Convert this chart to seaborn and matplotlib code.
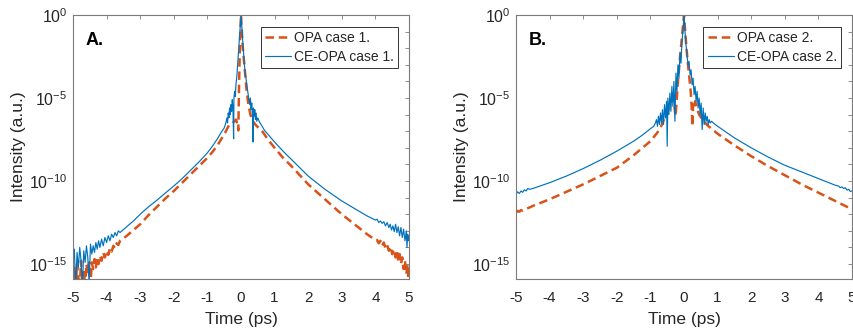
import numpy as np
import pandas as pd
import matplotlib
matplotlib.use("Agg")
import matplotlib.pyplot as plt
from matplotlib.ticker import FixedLocator, FuncFormatter, NullFormatter
import seaborn as sns

# ---------------- data: time (ps) and log10 of normalised intensity ----------------
# Case 1, CE-OPA
a_ce_t = [-5.00, -4.96, -4.92, -4.88, -4.84, -4.80, -4.76, -4.72, -4.68, -4.64, -4.60, -4.56,
          -4.52, -4.48, -4.44, -4.40, -4.36, -4.32, -4.28, -4.24, -4.20, -4.15, -4.10, -4.05,
          -4.00, -3.95, -3.90, -3.85, -3.80, -3.75, -3.70, -3.65, -3.60,
          -3.4, -3.2, -3.0, -2.75, -2.5, -2.25, -2.0, -1.75, -1.5, -1.25, -1.0, -0.85, -0.7,
          -0.6, -0.5, -0.45,
          -0.42, -0.40, -0.38, -0.36, -0.34, -0.32, -0.30, -0.28, -0.26, -0.24, -0.22, -0.21,
          -0.19, -0.17, -0.15, -0.12, -0.09, -0.06, -0.03, 0.0, 0.03, 0.06, 0.10, 0.14, 0.18,
          0.22, 0.26, 0.28, 0.30, 0.32, 0.34, 0.36, 0.37, 0.39, 0.41, 0.43, 0.45, 0.47, 0.50,
          0.55, 0.6, 0.7, 0.85, 1.0, 1.25, 1.5, 1.75, 2.0, 2.25, 2.5, 2.75, 3.0, 3.25, 3.5,
          3.75, 4.0,
          4.05, 4.10, 4.15, 4.20, 4.25, 4.30, 4.35, 4.40, 4.44, 4.48, 4.52, 4.56, 4.60, 4.64,
          4.68, 4.72, 4.76, 4.80, 4.84, 4.88, 4.92, 4.94, 4.96, 4.98, 5.00]
a_ce_log = [-14.6, -14.1, -16.5, -14.3, -15.2, -14.0, -14.8, -16.3, -14.2, -14.9, -13.9, -14.6,
            -16.2, -13.8, -14.4, -13.9, -14.3, -13.7, -14.1, -13.6, -14.0, -13.5, -13.9, -13.4,
            -13.7, -13.3, -13.6, -13.2, -13.4, -13.1, -13.3, -13.0, -13.1,
            -12.75, -12.4, -12.0, -11.55, -11.15, -10.72, -10.3, -9.85, -9.35, -8.85, -8.3,
            -7.9, -7.45, -7.1, -6.8, -6.5,
            -6.2, -6.5, -5.9, -6.2, -5.6, -6.0, -5.4, -5.8, -5.1, -5.6, -7.45, -5.0,
            -4.6, -4.9, -4.2, -3.6, -2.7, -1.8, -0.9, 0.0, -0.9, -1.8, -3.0, -3.7, -4.3,
            -4.9, -5.4, -5.0, -5.7, -5.3, -6.0, -7.65, -5.6, -6.1, -5.7, -6.3, -5.9, -6.4, -6.2,
            -6.45, -6.6, -6.95, -7.3, -7.65, -8.2, -8.7, -9.2, -9.7, -10.1, -10.5, -10.85,
            -11.2, -11.5, -11.8, -12.1, -12.35,
            -12.3, -12.5, -12.4, -12.55, -12.45, -12.7, -12.5, -12.8, -12.6, -12.95, -12.7,
            -13.05, -12.6, -13.1, -12.75, -13.3, -12.8, -13.4, -12.9, -13.6, -13.0, -14.0,
            -13.2, -13.6, -13.3]

# Case 1, OPA
a_opa_t = [-5.00, -4.96, -4.92, -4.88, -4.84, -4.80, -4.76, -4.72, -4.68, -4.64, -4.60, -4.56,
           -4.52, -4.48, -4.44, -4.40, -4.36, -4.32, -4.28, -4.24, -4.20, -4.15, -4.10, -4.05,
           -4.00, -3.95, -3.90, -3.85, -3.80, -3.75, -3.70, -3.65, -3.60,
           -3.4, -3.2, -3.0, -2.75, -2.5, -2.25, -2.0, -1.75, -1.5, -1.25, -1.0, -0.85, -0.7,
           -0.55, -0.45, -0.35, -0.25, -0.15, -0.10, -0.08, -0.06, -0.04, -0.02, 0.0, 0.02,
           0.05, 0.10, 0.16, 0.22, 0.28, 0.35, 0.45, 0.55, 0.65, 0.8, 1.0, 1.25, 1.5, 1.75,
           2.0, 2.25, 2.5, 2.75, 3.0, 3.25, 3.5, 3.75, 4.0,
           4.05, 4.10, 4.15, 4.20, 4.25, 4.30, 4.35, 4.40, 4.45, 4.50, 4.55, 4.60, 4.64, 4.68,
           4.72, 4.76, 4.80, 4.84, 4.88, 4.92, 4.96, 4.98, 5.00]
a_opa_log = [-16.5, -15.2, -16.5, -15.0, -15.8, -16.5, -14.8, -16.5, -15.3, -16.4, -15.0, -15.6,
             -14.9, -16.3, -14.9, -15.3, -14.7, -15.2, -14.6, -15.0, -14.5, -14.8, -14.3, -14.6,
             -14.2, -14.45, -14.05, -14.25, -13.9, -14.05, -13.75, -13.85, -13.6,
             -13.3, -12.95, -12.6, -12.05, -11.55, -11.05, -10.6, -10.1, -9.6, -9.1, -8.6,
             -8.25, -7.85, -7.35, -7.0, -6.6, -6.5, -6.3, -6.6, -6.95, -4.5, -2.5, -1.0, 0.0,
             -0.8, -1.9, -3.0, -4.4, -5.4, -6.0, -6.4, -6.65, -6.85, -7.05, -7.5, -8.0, -8.6,
             -9.1, -9.65, -10.2, -10.65, -11.1, -11.55, -12.0, -12.4, -12.8, -13.2, -13.55,
             -13.55, -13.75, -13.6, -13.9, -13.7, -14.05, -13.85, -14.2, -13.95, -14.4, -14.1,
             -14.6, -14.2, -14.8, -14.4, -15.0, -14.6, -15.3, -14.8, -15.6, -15.0, -15.9, -15.2]

# Case 2, CE-OPA
b_ce_t = [-5.0, -4.95, -4.9, -4.85, -4.8, -4.75, -4.7, -4.65, -4.6, -4.5, -4.0, -3.5, -3.0,
          -2.5, -2.0, -1.5, -1.25, -1.0, -0.9,
          -0.85, -0.82, -0.79, -0.76, -0.73, -0.70, -0.67, -0.64, -0.61, -0.58, -0.55, -0.52,
          -0.50, -0.48, -0.45, -0.42, -0.39, -0.36, -0.33, -0.30, -0.27, -0.24, -0.21, -0.18,
          -0.15, -0.12, -0.09, -0.06, -0.03, 0.0, 0.03, 0.06, 0.09, 0.12, 0.15, 0.18, 0.21,
          0.24, 0.27, 0.30, 0.33, 0.36, 0.39, 0.42, 0.45, 0.48, 0.51, 0.54, 0.57, 0.60, 0.63,
          0.66, 0.69, 0.72, 0.75, 0.78, 0.82, 0.9,
          1.0, 1.25, 1.5, 2.0, 2.5, 3.0, 3.5, 4.0, 4.5, 4.6, 4.65, 4.7, 4.75, 4.8, 4.85, 4.9,
          4.95, 5.0]
b_ce_log = [-10.8, -10.65, -10.75, -10.6, -10.68, -10.52, -10.6, -10.45, -10.5, -10.45, -10.1,
            -9.7, -9.25, -8.75, -8.2, -7.6, -7.25, -6.85, -6.7,
            -6.5, -6.3, -6.7, -6.1, -6.6, -5.9, -6.5, -5.7, -6.6, -5.4, -6.2, -5.2,
            -7.9, -5.0, -6.0, -4.7, -5.8, -4.3, -5.5, -4.0, -6.4, -3.5, -4.6, -3.0,
            -3.8, -2.3, -2.9, -1.6, -0.9, 0.0, -1.0, -1.8, -2.4, -3.0, -2.8, -3.6, -3.3,
            -4.2, -3.8, -4.8, -4.3, -5.2, -4.6, -5.6, -5.0, -6.0, -5.3, -6.9, -5.6, -6.6, -5.9,
            -6.4, -6.1, -6.6, -6.3, -6.5, -6.4, -6.55,
            -6.7, -7.05, -7.4, -8.0, -8.55, -9.05, -9.45, -9.85, -10.25, -10.3, -10.4, -10.35,
            -10.45, -10.4, -10.55, -10.5, -10.63, -10.6]

# Case 2, OPA
b_opa_t = [-5.0, -4.95, -4.9, -4.85, -4.8, -4.5, -4.0, -3.5, -3.0, -2.5, -2.0, -1.5, -1.0,
           -0.8, -0.7, -0.6, -0.5, -0.42, -0.35, -0.3, -0.25, -0.22, -0.18, -0.12, -0.06, 0.0,
           0.05, 0.10, 0.15, 0.20, 0.23, 0.25, 0.27, 0.30, 0.33, 0.38, 0.45, 0.55, 0.7, 0.85,
           1.0, 1.5, 2.0, 2.5, 3.0, 3.5, 4.0, 4.5, 5.0]
b_opa_log = [-11.9, -11.8, -11.85, -11.75, -11.78, -11.5, -11.1, -10.65, -10.2, -9.7, -9.2,
             -8.45, -7.6, -7.1, -6.8, -6.3, -5.9, -5.4, -5.0, -5.3, -6.1, -5.2, -4.0, -2.6,
             -1.3, 0.0, -1.4, -2.6, -3.6, -4.6, -5.6, -6.7, -5.4, -5.6, -5.2, -5.6, -6.0,
             -6.3, -6.65, -6.9, -7.15, -7.85, -8.5, -9.1, -9.65, -10.2, -10.7, -11.2, -11.7]

panels = [
    ("A.", a_opa_t, a_opa_log, a_ce_t, a_ce_log, "OPA case 1.", "CE-OPA case 1."),
    ("B.", b_opa_t, b_opa_log, b_ce_t, b_ce_log, "OPA case 2.", "CE-OPA case 2."),
]

ORANGE = "#D95319"
BLUE = "#0072BD"
FRAME = "#7a7a7a"
TEXT = "#262626"

sns.set_theme(style="white")
plt.rcParams["font.family"] = ["Liberation Sans", "DejaVu Sans"]
plt.rcParams["mathtext.default"] = "regular"

W, H = 854, 331
fig = plt.figure(figsize=(W / 100, H / 100), dpi=100)
fig.patch.set_facecolor("white")
ax_boxes = [(73, 15, 409, 279), (516, 15, 852, 279)]


def decade_label(v, pos):
    e = int(round(np.log10(v)))
    return r"$10^{%d}$" % e


for (x0, y0, x1, y1), (tag, ot, olog, ct, clog, olab, clab) in zip(ax_boxes, panels):
    ax = fig.add_axes([x0 / W, 1 - y1 / H, (x1 - x0) / W, (y1 - y0) / H])
    df_o = pd.DataFrame({"t": ot, "I": 10.0 ** np.asarray(olog)})
    df_c = pd.DataFrame({"t": ct, "I": 10.0 ** np.asarray(clog)})
    sns.lineplot(data=df_o, x="t", y="I", ax=ax, color=ORANGE, lw=1.8,
                 linestyle=(0, (3.4, 1.9)), estimator=None, sort=False, label=olab)
    sns.lineplot(data=df_c, x="t", y="I", ax=ax, color=BLUE, lw=0.85,
                 estimator=None, sort=False, label=clab)
    ax.set_yscale("log")
    ax.set_xlim(-5, 5)
    ax.set_ylim(10 ** -15.9, 1.0)
    ax.set_xticks(np.arange(-5, 6, 1))
    ax.set_xticklabels([str(v) for v in range(-5, 6)])
    ax.yaxis.set_major_locator(FixedLocator([1e-15, 1e-10, 1e-5, 1e0]))
    ax.yaxis.set_major_formatter(FuncFormatter(decade_label))
    ax.yaxis.set_minor_locator(FixedLocator([10.0 ** k for k in range(-15, 1)]))
    ax.yaxis.set_minor_formatter(NullFormatter())
    ax.tick_params(which="both", direction="in", top=True, right=True, length=3,
                   width=0.6, color=FRAME, labelcolor=TEXT)
    ax.tick_params(axis="x", which="major", labelsize=11, pad=9)
    ax.tick_params(axis="y", which="major", labelsize=11.5, pad=4)
    for sp in ax.spines.values():
        sp.set_color(FRAME)
        sp.set_linewidth(0.8)
    ax.set_xlabel("Time (ps)", fontsize=12.5, color=TEXT, labelpad=5)
    ax.set_ylabel("Intensity (a.u.)", fontsize=12.5, color=TEXT, labelpad=2)
    ax.text(0.037, 0.905, tag, transform=ax.transAxes, fontsize=13, fontweight="bold",
            color="black", va="center", ha="left")
    leg = ax.legend(loc="upper right", bbox_to_anchor=(1 - 11 / 336, 1 - 12 / 264),
                    borderaxespad=0, fontsize=10, frameon=True, fancybox=False,
                    framealpha=1, edgecolor="#333333", handlelength=1.9,
                    handletextpad=0.2, labelspacing=0.35, borderpad=0.3)
    leg.get_frame().set_linewidth(0.7)
    ax.grid(False)

fig.savefig("out.png", dpi=100, facecolor="white")
